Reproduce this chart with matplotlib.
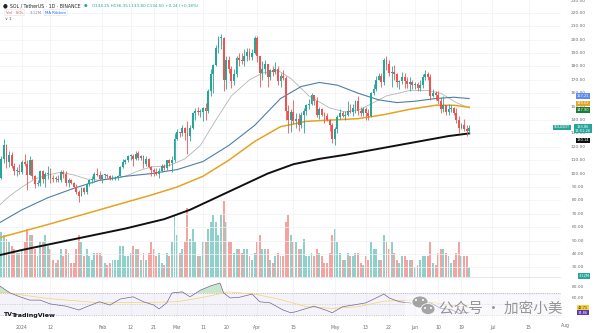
import numpy as np
import matplotlib
matplotlib.use("Agg")
import matplotlib.pyplot as plt
from matplotlib import transforms
from matplotlib.patches import Ellipse, FancyBboxPatch

plt.rcParams['font.family'] = ['DejaVu Sans']

# daily candles, day 0 = 2024-01-01, first candle 2023-12-23
first_open = 93
first_day = -9
closes = [97, 111, 121, 109, 114, 106, 102, 102, 101,
          109, 107, 99, 110, 98, 92, 93, 102, 96, 100,
          100, 97, 96, 96, 95, 101, 100, 93, 95, 93,
          90, 86, 83, 89, 86, 92, 95, 96, 100, 99,
          96, 99, 99, 98, 96, 96, 97, 98, 105, 109,
          110, 113, 113, 111, 115, 112, 113, 107, 111, 105,
          103, 101, 100, 102, 106, 104, 110, 108, 110, 126,
          131, 130, 134, 130, 128, 134, 145, 147, 146, 146,
          149, 147, 162, 174, 181, 194, 201, 201, 170, 185,
          178, 169, 174, 186, 185, 184, 188, 191, 187, 190,
          201, 188, 175, 178, 182, 172, 177, 176, 178, 169,
          173, 171, 147, 140, 146, 139, 141, 136, 144, 147,
          151, 152, 159, 154, 144, 148, 144, 143, 140, 136,
          126, 133, 142, 145, 143, 144, 147, 146, 149, 154,
          147, 145, 148, 145, 143, 160, 163, 170, 173, 168,
          185, 182, 175, 176, 174, 168, 169, 172, 169, 167,
          168, 166, 167, 164, 166, 172, 174, 172, 158, 160,
          159, 154, 148, 151, 146, 148, 149, 145, 140, 134,
          136, 133, 132, 134]
highs = [99, 113, 126, 122, 117, 116, 108, 105, 107,
         110, 115, 110, 113, 111, 99, 95, 103, 103, 101,
         106, 104, 99, 98, 99, 103, 103, 102, 97, 96,
         94, 92, 88, 90, 90, 93, 96, 98, 101, 104,
         102, 100, 100, 100, 99, 99, 98, 99, 106, 111,
         111, 114, 115, 115, 117, 117, 114, 114, 113, 112,
         106, 104, 104, 104, 107, 107, 110, 111, 113, 130,
         133, 131, 136, 135, 139, 136, 146, 149, 150, 148,
         150, 153, 163, 178, 182, 196, 203, 204, 202, 188,
         188, 180, 178, 188, 190, 190, 193, 194, 194, 193,
         203, 203, 188, 184, 185, 182, 178, 180, 183, 180,
         175, 177, 173, 151, 148, 155, 145, 145, 146, 149,
         152, 156, 160, 159, 157, 150, 149, 146, 145, 141,
         138, 135, 144, 148, 147, 147, 154, 152, 152, 155,
         158, 150, 150, 150, 148, 161, 167, 173, 175, 175,
         186, 188, 185, 180, 181, 175, 170, 176, 175, 172,
         172, 170, 168, 168, 170, 174, 177, 176, 174, 163,
         162, 162, 157, 158, 151, 152, 151, 150, 149, 143,
         138, 141, 136, 136]
lows = [91, 96, 108, 104, 105, 104, 99, 98, 100,
        100, 106, 88, 99, 96, 89, 91, 91, 93, 90,
        96, 93, 94, 94, 94, 94, 97, 91, 90, 92,
        90, 85, 79, 83, 85, 85, 91, 93, 94, 98,
        95, 93, 97, 97, 95, 95, 95, 95, 98, 104,
        107, 109, 110, 106, 110, 110, 110, 104, 106, 104,
        98, 98, 99, 97, 101, 103, 103, 106, 101, 109,
        125, 127, 128, 125, 115, 124, 133, 140, 144, 142,
        139, 140, 145, 158, 160, 180, 190, 193, 162, 163,
        175, 164, 166, 172, 180, 182, 180, 184, 185, 185,
        189, 183, 165, 170, 174, 165, 170, 173, 174, 166,
        165, 170, 140, 130, 131, 137, 134, 132, 134, 130,
        144, 148, 151, 151, 142, 141, 143, 138, 139, 132,
        123, 121, 130, 141, 142, 140, 143, 145, 143, 145,
        144, 143, 143, 140, 140, 142, 159, 162, 170, 165,
        166, 177, 173, 165, 170, 165, 163, 167, 164, 164,
        162, 163, 163, 162, 162, 164, 170, 170, 155, 157,
        155, 152, 145, 146, 144, 144, 146, 144, 138, 130,
        133, 132, 128, 130]
volumes = [5, 6.5, 6, 5.5, 5, 4.5, 4, 3.5, 3.5,
           4, 5, 7, 6, 6, 4, 3, 5, 5, 6,
           4.5, 4, 2.5, 2, 2.5, 4, 3, 4, 3.5, 2,
           2, 4, 6, 5, 3, 4, 3, 2.5, 3.5, 3.5,
           3.5, 3, 2, 1.8, 2, 2.5, 2.5, 2.5, 4.5, 4.5,
           3, 3, 3.5, 4.5, 4, 4, 2.5, 3.5, 2.5, 3.5,
           5, 4, 3, 3.5, 2, 1.8, 3.5, 3, 5, 9,
           6, 3.5, 4, 5, 10, 5.5, 7, 5, 3, 3,
           5, 5, 7, 8, 9, 8, 6, 9, 11, 8,
           5, 5, 3.5, 4, 4, 3.5, 4, 4, 3, 2.5,
           3.5, 5, 6, 4, 4, 4, 2.5, 2, 3, 3.5,
           3, 3, 8, 9, 6, 5, 5, 4, 4, 5.5,
           3, 3, 3.5, 3, 4, 3.5, 3, 2, 2, 3.5,
           6, 7, 5, 3.5, 2.5, 2.5, 3.5, 3, 3, 3.5,
           3.5, 2, 1.8, 3, 2.5, 5, 4, 4, 2.5, 2.5,
           6, 5, 4, 5, 3.5, 2.5, 2, 3, 3, 2.5,
           2.5, 2.5, 1.5, 1.8, 2.5, 3, 3, 3, 5, 2,
           1.8, 3.5, 4, 4, 3.5, 3, 2, 2.5, 3.5, 5,
           3, 3, 3, 1.5]

# moving averages (day, value)
ma20_days = [-9, -5, 0, 5, 10, 15, 20, 25, 30, 35, 40, 45, 50, 57, 63, 69, 75, 81,
             88, 93, 99, 104, 111, 119, 125, 131, 136, 141, 150, 157, 162, 168, 173]
ma20_vals = [76, 83, 90, 96, 99, 101, 99, 96, 95, 96, 98, 102, 105, 106, 111, 121, 140, 158,
             170, 175, 177, 171, 158, 149, 146, 148, 153, 158, 162, 162, 160, 153, 149]
ma50_days = [-9, 0, 10, 20, 30, 40, 50, 60, 70, 80, 90, 100, 108, 115, 122, 130, 138,
             145, 152, 160, 167, 173]
ma50_vals = [63, 73, 82, 89, 95, 98, 100, 103, 109, 121, 136, 156, 165, 168, 166, 160, 155,
             153, 154, 156, 157, 156]
ma100_days = [-9, 10, 30, 50, 60, 70, 80, 90, 100, 110, 120, 130, 140, 150, 160, 167, 173]
ma100_vals = [52, 62, 73, 84, 90, 98, 110, 124, 135, 139, 140, 141, 144, 148, 151, 151, 149.5]
ma200_days = [-9, 0, 20, 40, 55, 65, 75, 85, 95, 105, 115, 125, 135, 145, 155, 165, 173]
ma200_vals = [39, 43, 51, 59, 66, 73, 82, 91, 100, 107, 111, 114, 117.5, 121, 124.5, 128, 130]

# RSI panel
rsi_days = [-9, -4.6, -0.8, 3, 7, 11, 17, 22, 25, 30, 34, 38, 43, 47, 51, 53, 56, 58, 62, 65,
            69, 73, 76.6, 78, 80.5, 84, 89, 92, 96, 101, 104, 106, 108, 113, 118, 120, 124,
            128, 133, 137, 140, 142, 146, 150, 154, 158, 162, 166, 169, 173]
rsi_vals = [84, 70, 63, 57, 57, 50, 46, 39, 45, 54, 48, 59, 63, 54, 48, 41, 52, 70, 72, 63,
            75, 83, 88, 70, 61, 62, 68, 54, 52, 39, 34, 36, 39, 46, 38, 34, 45,
            48, 52, 61, 68, 61, 54, 52, 50, 52, 42, 40, 33, 35]
rsi_ma_days = [-9, 10, 30, 50, 60, 70, 80, 90, 100, 110, 120, 130, 140, 150, 160, 173]
rsi_ma_vals = [72, 60, 52, 53, 54, 62, 72, 68, 58, 45, 42, 45, 55, 57, 52, 43]

price_ticks = list(range(30, 240, 10))
tick_days = [0, 11, 31, 42, 51, 60, 70, 79, 91, 105, 121, 133, 142, 152, 161, 170, 182, 196]
tick_labels = ["2024", "12", "Feb", "12", "21", "Mar", "11", "20", "Apr", "15",
               "May", "13", "22", "Jun", "10", "19", "Jul", "15"]

UP, DOWN = '#26a69a', '#ef5350'
W, H = 600, 333


def box(x0, y0, x1, y1):
    return [x0 / W, 1 - y1 / H, (x1 - x0) / W, (y1 - y0) / H]


fig = plt.figure(figsize=(6, 3.33), dpi=100)
ax = fig.add_axes(box(0, 0, 561, 277))
axr = fig.add_axes(box(0, 277, 561, 319), sharex=ax)
axv = ax.twinx()
ax.set_zorder(axv.get_zorder() + 1)
ax.patch.set_visible(False)

days = np.arange(first_day, first_day + len(closes))
c = np.array(closes, float)
o = np.r_[first_open, c[:-1]]
hi = np.array(highs, float)
lo = np.array(lows, float)
up = c >= o
colors = np.where(up, UP, DOWN)

# volume overlay
vcol = np.where(up, '#8fd1ca', '#f5a3a1')
axv.bar(days, volumes, width=0.75, color=vcol, linewidth=0)
axv.set_ylim(0, 40)
axv.axis('off')

# candles
ax.vlines(days, lo, hi, colors=colors, linewidth=0.6, zorder=3)
body = np.maximum(np.abs(c - o), 0.6)
ax.bar(days, body, bottom=np.minimum(o, c), width=0.72, color=colors, linewidth=0, zorder=4)

# moving averages
ax.plot(ma20_days, ma20_vals, color='#b5b5b5', lw=0.6, zorder=2)
ax.plot(ma50_days, ma50_vals, color='#4e7fa6', lw=0.8, zorder=2)
ax.plot(ma100_days, ma100_vals, color='#e5a320', lw=1.1, zorder=2)
ax.plot(ma200_days, ma200_vals, color='#111111', lw=1.4, zorder=2)

x0 = -22 / 2.585
x1 = (561 - 22) / 2.585
ax.set_xlim(x0, x1)
ax.set_ylim(140 - 157 / 1.34, 140 + 120 / 1.34)

for a in (ax, axr):
    for s in a.spines.values():
        s.set_visible(False)
    a.tick_params(length=0)
    for d in tick_days:
        a.axvline(d, color='#f0f2f6', lw=0.5, zorder=0)
ax.set_yticks([])
ax.tick_params(labelbottom=False)
for p in price_ticks:
    ax.axhline(p, color='#f0f2f6', lw=0.5, zorder=0)

trans = transforms.blended_transform_factory(ax.transAxes, ax.transData)
for p in price_ticks:
    ax.text(578 / 561, min(p, 228.6), f"{p:.2f}", transform=trans, ha='center', va='center',
            fontsize=3.2, color='#6a6d78', clip_on=False)

# right-hand value tags
tags = [(158.0, "157.21", '#5b8def'), (152.5, "149.62", '#e5a320'),
        (147.3, "147.90", '#1e7b34'), (133.4, "133.86\n13:51:26", UP),
        (124.8, "130.14", '#111111')]
for val, txt, col in tags:
    ax.text(583 / 561, val, txt, transform=trans, ha='center', va='center', fontsize=2.6,
            color='white', linespacing=0.85, clip_on=False,
            bbox=dict(boxstyle='square,pad=0.2', fc=col, ec='none'))
ax.text(562 / 561, 134.6, "SOLUSDT", transform=trans, ha='center', va='center', fontsize=2.4,
        color='white', clip_on=False, bbox=dict(boxstyle='square,pad=0.2', fc=UP, ec='none'))
fig.text(584 / W, 1 - 276 / H, "3.12M", ha='center', va='center', fontsize=2.6, color='white',
         bbox=dict(boxstyle='square,pad=0.2', fc=UP, ec='none'))

# RSI panel
axr.set_ylim(22.7, 99)
axr.axhspan(30, 70, color='#7e57c2', alpha=0.07, lw=0)
for lvl, ls in ((70, (0, (2, 2))), (50, (0, (1, 2))), (30, (0, (2, 2)))):
    axr.axhline(lvl, color='#9598a1', lw=0.4, ls=ls)
rd = np.array(rsi_days, float)
rv = np.array(rsi_vals, float)
axr.fill_between(rd, 70, rv, where=rv > 70, interpolate=True, color='#66bb6a', alpha=0.35, lw=0)
axr.plot(rsi_ma_days, rsi_ma_vals, color='#f3d36b', lw=0.5)
axr.plot(rd, rv, color='#6f6692', lw=0.5)
axr.axhline(99, color='#e0e3eb', lw=0.6)
axr.set_yticks([])
axr.set_xticks(tick_days)
axr.set_xticklabels(tick_labels, fontsize=3.3, color='#6a6d78')
axr.tick_params(axis='x', pad=4)
trr = transforms.blended_transform_factory(axr.transAxes, axr.transData)
for p in (80, 60):
    axr.text(578 / 561, p, f"{p:.2f}", transform=trr, ha='center', va='center',
             fontsize=3.2, color='#6a6d78', clip_on=False)
axr.text(583 / 561, 43.5, "42.71", transform=trr, ha='center', va='center', fontsize=2.6,
         color='#333333', clip_on=False, bbox=dict(boxstyle='square,pad=0.2', fc='#f7d23b', ec='none'))
axr.text(583 / 561, 34.5, "34.86", transform=trr, ha='center', va='center', fontsize=2.6,
         color='white', clip_on=False, bbox=dict(boxstyle='square,pad=0.2', fc='#5e35b1', ec='none'))
fig.text(565 / W, 1 - 326 / H, "Aug", ha='center', va='center', fontsize=3.3, color='#6a6d78')

# header
fig.text(3 / W, 1 - 6 / H, "\u25CF", fontsize=4, color='#222222', va='center')
fig.text(10 / W, 1 - 6 / H, "SOL / TetherUS \u00b7 1D \u00b7 BINANCE", fontsize=3.3,
         color='#222222', va='center')
fig.text(84 / W, 1 - 6 / H, "\u25CF", fontsize=3, color=UP, va='center')
fig.text(92 / W, 1 - 6 / H, "O134.25 H136.35 L133.80 C134.50 +0.24 (+0.18%)", fontsize=3,
         color=UP, va='center')
fig.text(6 / W, 1 - 12.5 / H, "Vol \u00b7 SOL", fontsize=2.8, color='#d9534f', va='center',
         bbox=dict(boxstyle='round,pad=0.3', fc='white', ec='#e0e3eb', lw=0.4))
fig.text(30 / W, 1 - 12.5 / H, "3.12M", fontsize=2.8, color='#8a8d96', va='center')
fig.text(45 / W, 1 - 12.5 / H, "MA Ribbon", fontsize=2.8, color='#2962ff', va='center',
         bbox=dict(boxstyle='round,pad=0.3', fc='white', ec='#e0e3eb', lw=0.4))
fig.text(5 / W, 1 - 19 / H, "\u2228 1", fontsize=3, color='#555555', va='center')

# TradingView mark
fig.text(3 / W, 1 - 315 / H, "TV", fontsize=4.5, fontweight='bold', color='#131722', va='center')
fig.text(12 / W, 1 - 315 / H, "TradingView", fontsize=4.6, fontweight='bold', color='#131722',
         va='center')

# watermark
fig.patches.append(FancyBboxPatch((405 / W, 1 - 321 / H), 160 / W, 26 / H,
                                  boxstyle='round,pad=0.0,rounding_size=0.01',
                                  transform=fig.transFigure, fc='white', ec='none', alpha=0.45))
for cx, cy, w, h in ((420, 302, 16, 12), (428, 309, 14, 11)):
    fig.patches.append(Ellipse((cx / W, 1 - cy / H), w / W, h / H, transform=fig.transFigure,
                               fc='#9c9c9c', ec='white', lw=0.6, alpha=0.9))
for ex, ey in ((416, 300), (423, 300), (425, 308), (431, 308)):
    fig.patches.append(Ellipse((ex / W, 1 - ey / H), 2 / W, 2 / H, transform=fig.transFigure,
                               fc='white', ec='none'))
fig.text(439 / W, 1 - 309 / H, "公众号 · 加密小美", fontsize=10.5, color='#8a8a8a',
         va='center', family=['Noto Sans CJK SC', 'DejaVu Sans'], alpha=0.9)

fig.savefig("out.png", dpi=100, facecolor='white')
